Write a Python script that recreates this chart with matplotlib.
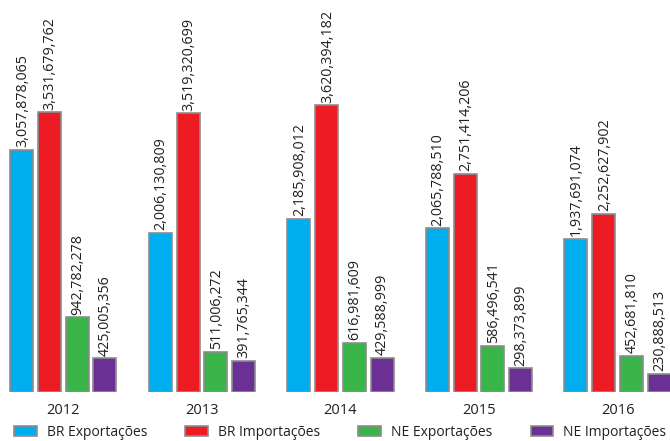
import matplotlib
matplotlib.use("Agg")
import matplotlib.pyplot as plt
import numpy as np

plt.rcParams["font.family"] = ["Open Sans", "DejaVu Sans"]

anos = ["2012", "2013", "2014", "2015", "2016"]
series = ["BR Exportações", "BR Importações", "NE Exportações", "NE Importações"]
br_exp = [3057878065, 2006130809, 2185908012, 2065788510, 1937691074]
br_imp = [3531679762, 3519320699, 3620394182, 2751414206, 2252627902]
ne_exp = [942782278, 511006272, 616981609, 586496541, 452681810]
ne_imp = [425005356, 391765344, 429588999, 298373899, 230888513]
cores = ["#00AEEF", "#ED1C24", "#39B54A", "#6A3093"]

valores = [br_exp, br_imp, ne_exp, ne_imp]

fig = plt.figure(figsize=(6.7, 4.41), dpi=100)
ax = fig.add_axes([0, 49 / 441, 1, 392 / 441])

x = np.arange(len(anos))
largura = 0.166
passo = 0.2

for j, (nome, vals, cor) in enumerate(zip(series, valores, cores)):
    pos = x + (j - 1.5) * passo
    barras = ax.bar(pos, vals, largura, color=cor, edgecolor="#8C8C8C",
                    linewidth=1.2, label=nome)
    for b, v in zip(barras, vals):
        ax.annotate(f"{v:,}", (b.get_x() + b.get_width() / 2, v),
                    xytext=(0.5, 2), textcoords="offset points",
                    rotation=90, ha="center", va="bottom",
                    fontsize=10.3, color="#231F20")

for xi, ano in zip(x, anos):
    ax.annotate(ano, (xi, 0), xycoords=("data", "axes fraction"),
                xytext=(0, -13.5), textcoords="offset points",
                ha="center", va="center", fontsize=10.5, color="#231F20")

ax.set_xlim(-0.458, 4.379)
ax.set_ylim(0, 4.95e9)
ax.axis("off")

fig.legend(loc="lower left", bbox_to_anchor=(0.013, -0.01), ncol=4,
           frameon=False, fontsize=10, handlelength=1.65, handleheight=0.8,
           handletextpad=0.7, columnspacing=2.75, borderaxespad=0,
           labelcolor="#231F20")

fig.savefig("out.png", dpi=100)
